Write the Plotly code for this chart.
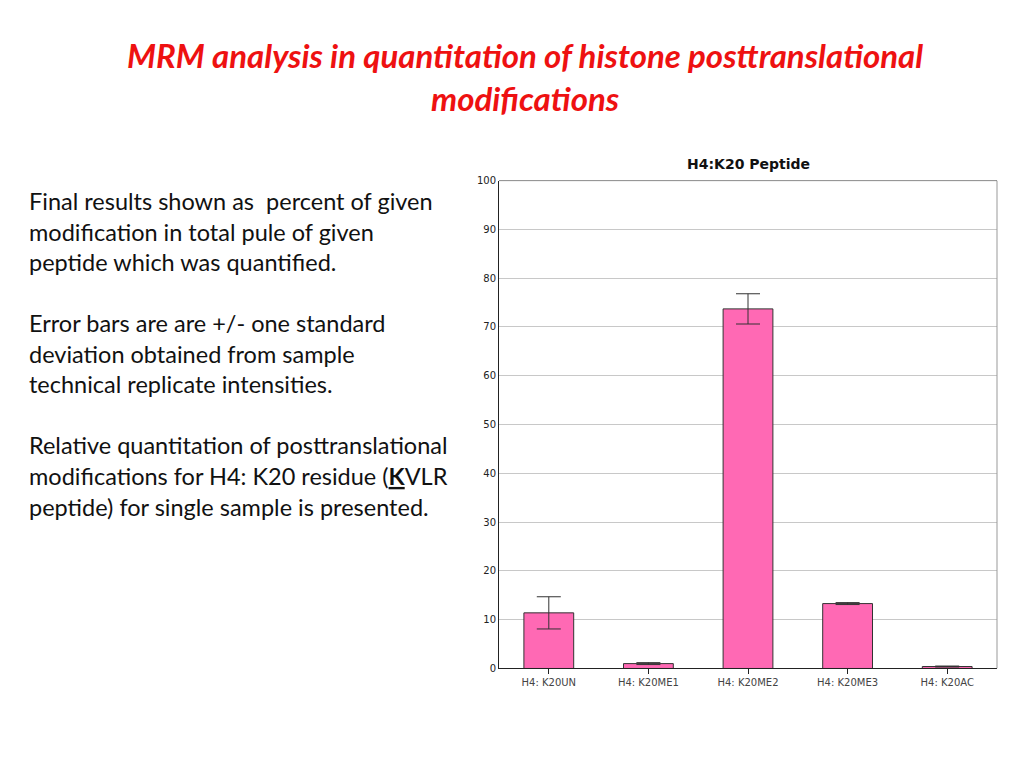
import plotly.graph_objects as go

categories = ["H4: K20UN", "H4: K20ME1", "H4: K20ME2", "H4: K20ME3", "H4: K20AC"]
values = [11.4, 1.0, 73.7, 13.3, 0.4]
errors = [3.3, 0.2, 3.1, 0.2, 0.1]
yticks = list(range(0, 101, 10))

W, H, OFF = 1024, 768, 8  # page body margin offset compensation
def px(x): return (x - OFF) / W
def py(y): return 1 - (y - OFF) / H

fig = go.Figure()
fig.add_trace(go.Bar(
    x=categories, y=values, width=0.5,
    marker=dict(color="#ff69b4", line=dict(color="#333333", width=1)),
    error_y=dict(type="data", array=errors, visible=True, color="#333333", thickness=1, width=12),
))

fig.update_layout(
    width=W, height=H, showlegend=False,
    paper_bgcolor="white", plot_bgcolor="white",
    margin=dict(l=0, r=0, t=0, b=0),
    xaxis=dict(domain=[px(499), px(997)], showline=True, linecolor="#222",
               ticks="outside", ticklen=5, tickcolor="#222",
               tickfont=dict(family="DejaVu Sans", size=10, color="#444"), fixedrange=True),
    yaxis=dict(domain=[py(673), py(178)], range=[0, 100], tickvals=yticks,
               showgrid=True, gridcolor="#c8c8c8", showline=True, linecolor="#222",
               tickfont=dict(family="DejaVu Sans", size=10, color="#222"), ticks=""),
    shapes=[dict(type="line", xref="x domain", yref="y", x0=1, x1=1, y0=0, y1=100,
                 line=dict(color="#999", width=1)),
            dict(type="line", xref="x domain", yref="y", x0=0, x1=1, y0=100, y1=100,
                 line=dict(color="#222", width=1))],
)

fig.add_annotation(text="<b><i>MRM analysis in quantitation of histone posttranslational<br>modifications</i></b>",
                   xref="paper", yref="paper", x=px(525), y=py(72), xanchor="center", yanchor="middle",
                   showarrow=False, font=dict(family="Lato", size=33, color="#ee1111"), align="center")
fig.add_annotation(text="<b>H4:K20 Peptide</b>", xref="paper", yref="paper", x=px(748), y=py(161),
                   xanchor="center", yanchor="middle",
                   showarrow=False, font=dict(family="DejaVu Sans", size=14, color="#111"))

left = ("Final results shown as  percent of given<br>modification in total pule of given<br>peptide which was quantified.<br><br>"
        "Error bars are are +/- one standard<br>deviation obtained from sample<br>technical replicate intensities.<br><br>"
        "Relative quantitation of posttranslational<br>modifications for H4: K20 residue (<b><u>K</u></b>VLR<br>peptide) for single sample is presented.")
fig.add_annotation(text=left, xref="paper", yref="paper", x=px(27), y=py(182), xanchor="left", yanchor="top",
                   showarrow=False, align="left", font=dict(family="Lato", size=23.5, color="#111"))

fig.write_html("out.html")
